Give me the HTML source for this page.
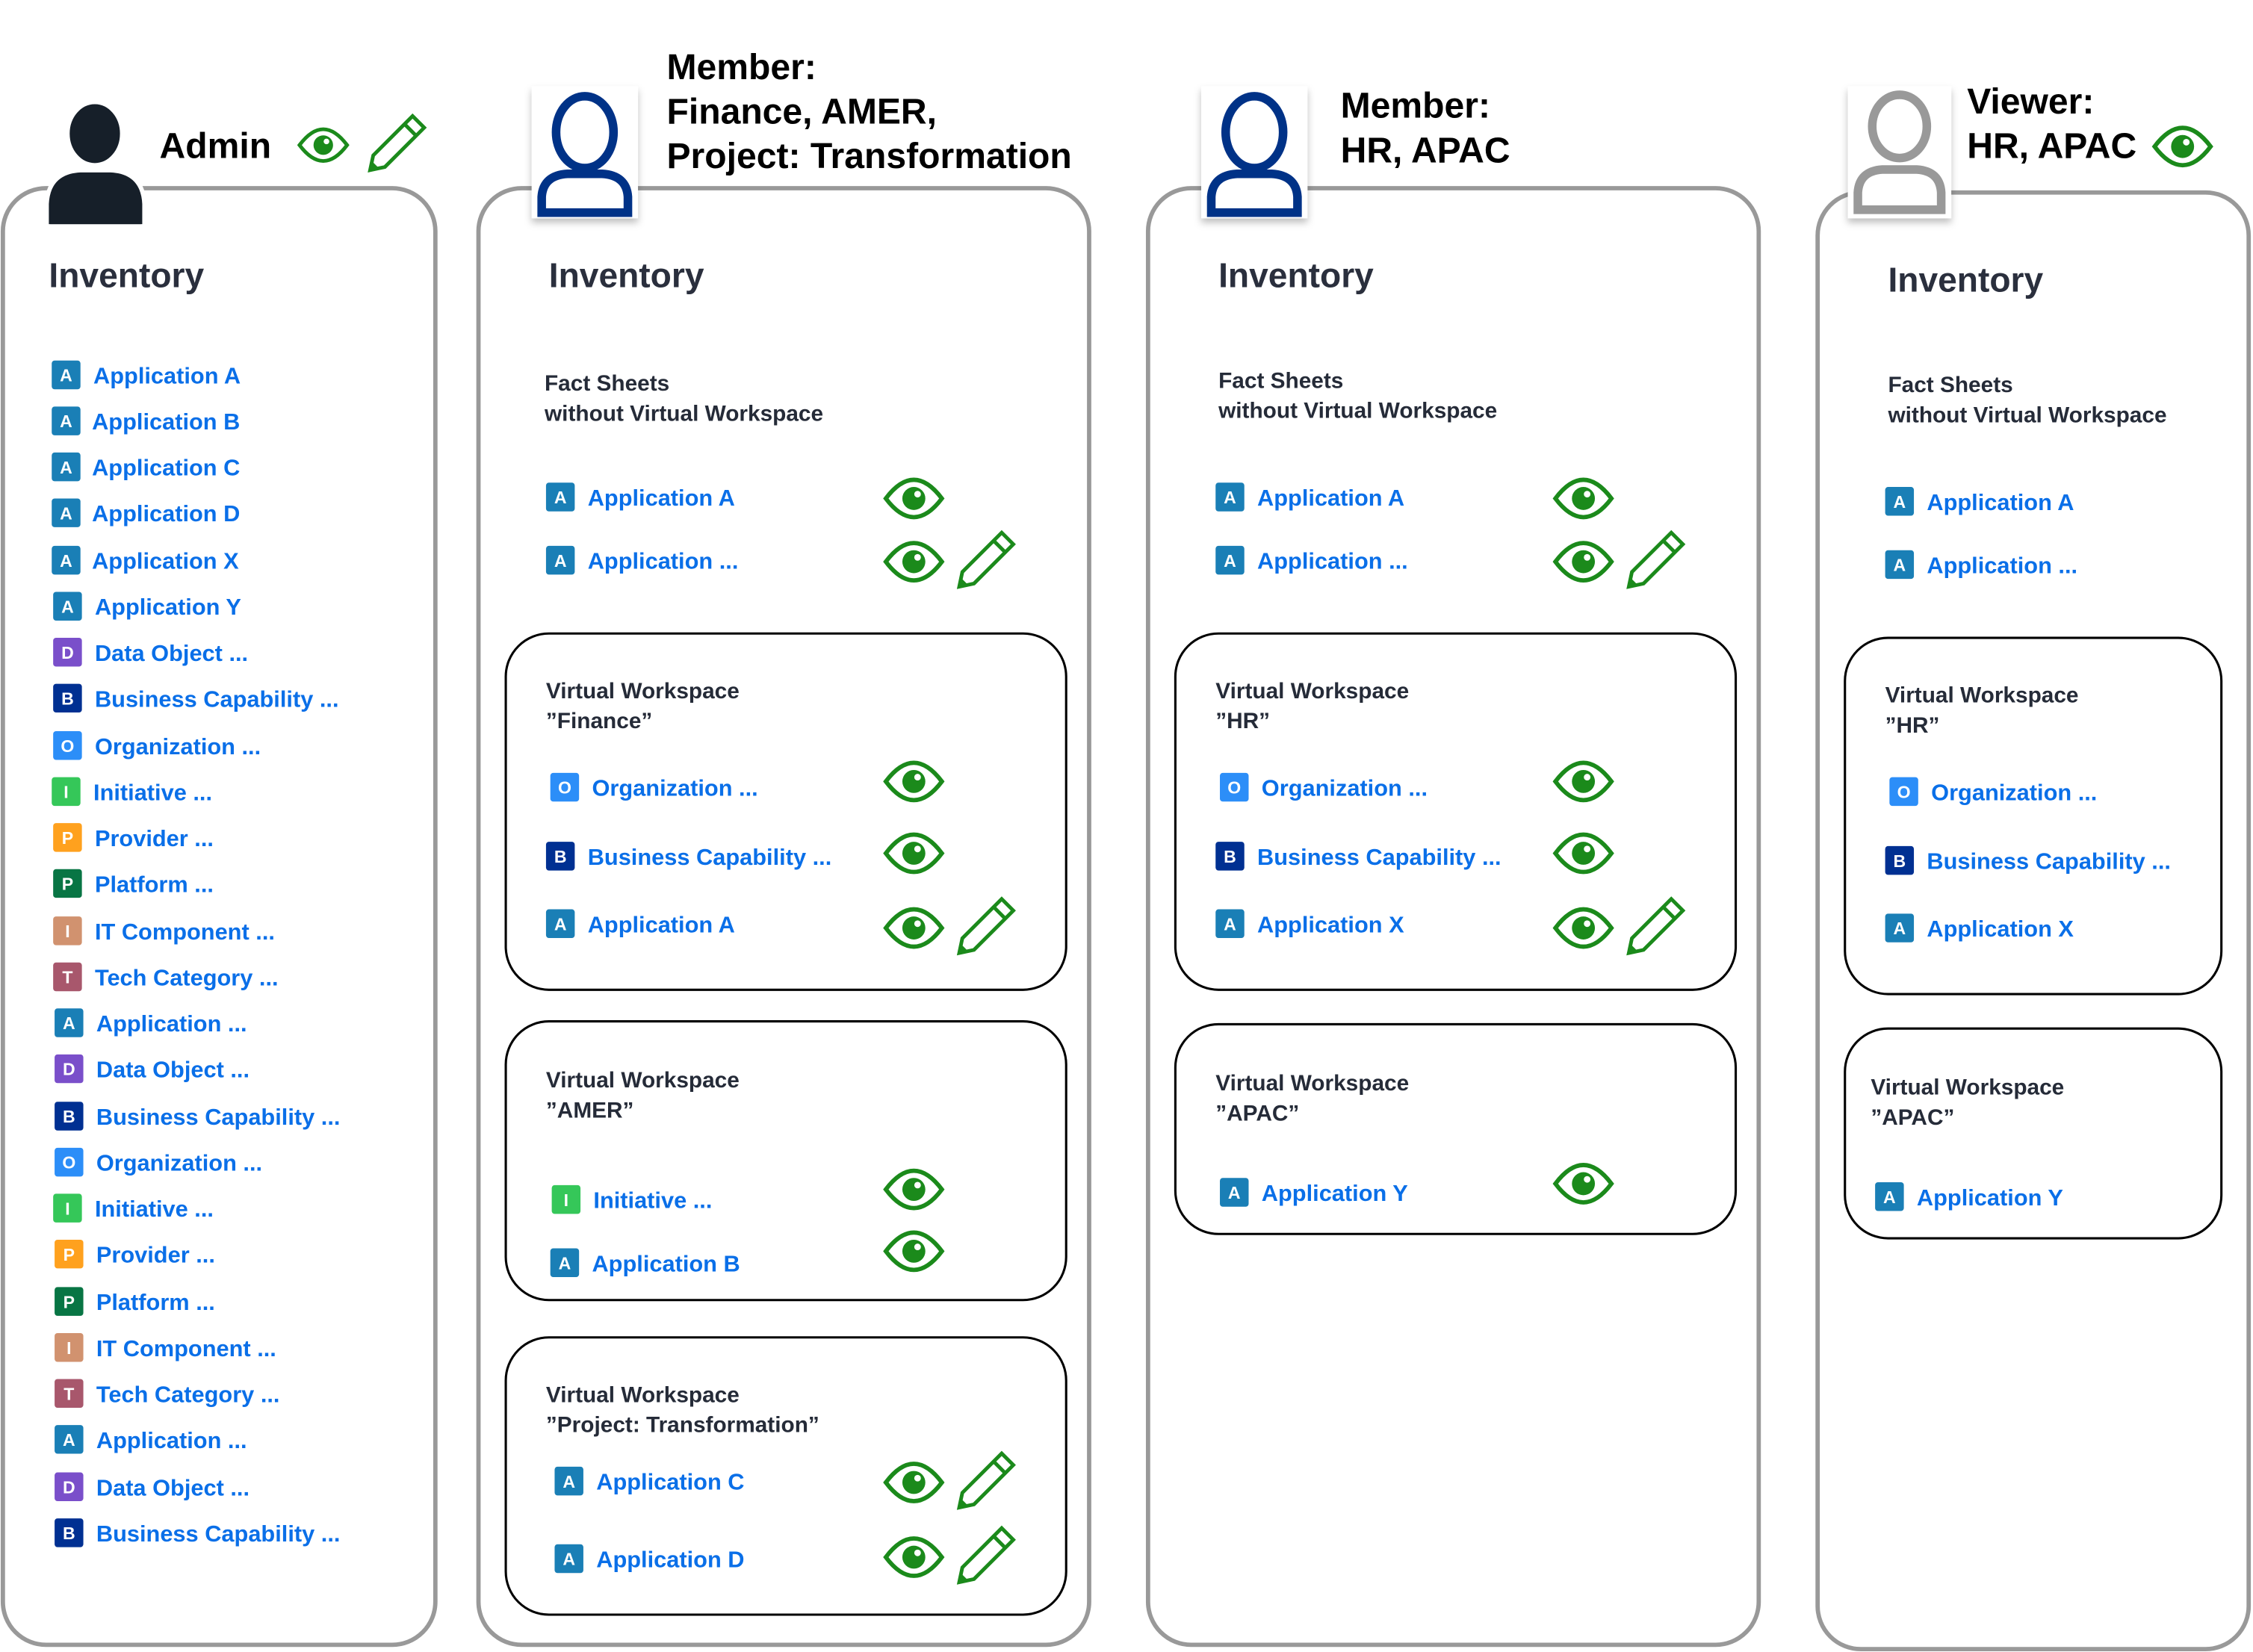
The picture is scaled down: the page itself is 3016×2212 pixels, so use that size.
<!DOCTYPE html>
<html><head><meta charset="utf-8"><style>
html,body{margin:0;padding:0;background:#fff;width:3016px;height:2212px;overflow:hidden}
svg{display:block}
text{font-family:"Liberation Sans",sans-serif}
.t{font-weight:bold;fill:#000;font-size:25px}
.inv{font-weight:bold;fill:#2a2f3d;font-size:24px}
.h{font-weight:bold;fill:#252b38;font-size:15.5px}
.i{font-weight:bold;fill:#0a6fe8;font-size:16px}
.b{font-weight:bold;fill:#fff;font-size:12px;text-anchor:middle}
</style></head><body>
<svg width="3016" height="2212" viewBox="0 0 1568 1150" xmlns="http://www.w3.org/2000/svg">
<defs>
<g id="eye"><path d="M-19.5,0 Q0,-26 19.5,0 Q0,26 -19.5,0 Z" fill="#fff" stroke="#1b8a1b" stroke-width="3"/><circle r="8" fill="#1b8a1b"/><circle cx="2.6" cy="-3" r="2.3" fill="#fff"/></g>
<g id="pen"><g transform="scale(0.88) rotate(-45)"><path d="M-28,0 L-18,-6.5 L26,-6.5 L26,6.5 L-18,6.5 Z" fill="#fff" stroke="#1b8a1b" stroke-width="2.9" stroke-linejoin="miter"/><line x1="17" y1="-6.5" x2="17" y2="6.5" stroke="#1b8a1b" stroke-width="2.9"/><path d="M-28,0 L-22,-3.8 L-22,3.8Z" fill="#1b8a1b"/></g></g>
<filter id="sh" x="-30%" y="-30%" width="160%" height="160%"><feDropShadow dx="0" dy="3" stdDeviation="2.5" flood-color="#000" flood-opacity="0.25"/></filter>
</defs>

<rect x="2" y="131" width="301" height="1014" rx="30" fill="#fff" stroke="#999" stroke-width="3"/>
<rect x="333" y="131" width="425" height="1014" rx="30" fill="#fff" stroke="#999" stroke-width="3"/>
<rect x="799" y="131" width="425" height="1014" rx="30" fill="#fff" stroke="#999" stroke-width="3"/>
<rect x="1265" y="134" width="300" height="1014" rx="30" fill="#fff" stroke="#999" stroke-width="3"/>

<g>
<ellipse cx="66" cy="93" rx="19" ry="22" fill="#161f29" stroke="#fff" stroke-width="3"/>
<path d="M33,158 L33,142 Q34,120 56,119 L77,119 Q99,120 100,142 L100,158 Z" fill="#161f29" stroke="#fff" stroke-width="4"/>
<path d="M34,156 L34,142 Q35,121 56,120 L77,120 Q98,121 99,142 L99,156 Z" fill="#161f29"/>
</g>
<text class="t" x="111" y="110">Admin</text>
<use href="#eye" x="225" y="101" transform="translate(225 101) scale(0.85) translate(-225 -101)"/>
<use href="#pen" x="275" y="101"/>

<g filter="url(#sh)">
<rect x="370" y="60" width="74" height="92" fill="#fff"/>
<ellipse cx="407" cy="92" rx="20" ry="25" fill="none" stroke="#003087" stroke-width="6"/>
<path d="M377,148 L377,137 Q378,122 395,121 L419,121 Q436,122 437,137 L437,148 Z" fill="none" stroke="#003087" stroke-width="6"/>
</g>
<g filter="url(#sh)">
<rect x="836" y="60" width="74" height="92" fill="#fff"/>
<ellipse cx="873" cy="92" rx="20" ry="25" fill="none" stroke="#003087" stroke-width="6"/>
<path d="M843,148 L843,137 Q844,122 861,121 L885,121 Q902,122 903,137 L903,148 Z" fill="none" stroke="#003087" stroke-width="6"/>
</g>
<g filter="url(#sh)">
<rect x="1286" y="60" width="72" height="92" fill="#fff"/>
<ellipse cx="1322" cy="88" rx="19" ry="22" fill="none" stroke="#999" stroke-width="6"/>
<path d="M1293,146 L1293,134 Q1294,119 1310,118 L1334,118 Q1350,119 1351,134 L1351,146 Z" fill="none" stroke="#999" stroke-width="6"/>
</g>

<text class="t" x="464" y="55">Member:</text>
<text class="t" x="464" y="86">Finance, AMER,</text>
<text class="t" x="464" y="117">Project: Transformation</text>
<text class="t" x="933" y="82">Member:</text>
<text class="t" x="933" y="113">HR, APAC</text>
<text class="t" x="1369" y="79">Viewer:</text>
<text class="t" x="1369" y="110">HR, APAC</text>
<use href="#eye" x="1519" y="102"/>

<text class="inv" x="34" y="200">Inventory</text>
<text class="inv" x="382" y="200">Inventory</text>
<text class="inv" x="848" y="200">Inventory</text>
<text class="inv" x="1314" y="203">Inventory</text>

<g>
<rect x="36" y="251" width="20" height="20" rx="2" fill="#1a7fb6"/><text class="b" x="46" y="265.5">A</text><text class="i" x="65" y="267">Application A</text>
<rect x="36" y="283" width="20" height="20" rx="2" fill="#1a7fb6"/><text class="b" x="46" y="297.5">A</text><text class="i" x="64" y="299">Application B</text>
<rect x="36" y="315" width="20" height="20" rx="2" fill="#1a7fb6"/><text class="b" x="46" y="329.5">A</text><text class="i" x="64" y="331">Application C</text>
<rect x="36" y="347" width="20" height="20" rx="2" fill="#1a7fb6"/><text class="b" x="46" y="361.5">A</text><text class="i" x="64" y="363">Application D</text>
<rect x="36" y="380" width="20" height="20" rx="2" fill="#1a7fb6"/><text class="b" x="46" y="394.5">A</text><text class="i" x="64" y="396">Application X</text>
<rect x="37" y="412" width="20" height="20" rx="2" fill="#1a7fb6"/><text class="b" x="47" y="426.5">A</text><text class="i" x="66" y="428">Application Y</text>
<rect x="37" y="444" width="20" height="20" rx="2" fill="#7a4fca"/><text class="b" x="47" y="458.5">D</text><text class="i" x="66" y="460">Data Object ...</text>
<rect x="37" y="476" width="20" height="20" rx="2" fill="#003092"/><text class="b" x="47" y="490.5">B</text><text class="i" x="66" y="492">Business Capability ...</text>
<rect x="37" y="509" width="20" height="20" rx="2" fill="#2c8ef8"/><text class="b" x="47" y="523.5">O</text><text class="i" x="66" y="525">Organization ...</text>
<rect x="36" y="541" width="20" height="20" rx="2" fill="#35c759"/><text class="b" x="46" y="555.5">I</text><text class="i" x="65" y="557">Initiative ...</text>
<rect x="37" y="573" width="20" height="20" rx="2" fill="#ffa11e"/><text class="b" x="47" y="587.5">P</text><text class="i" x="66" y="589">Provider ...</text>
<rect x="37" y="605" width="20" height="20" rx="2" fill="#087544"/><text class="b" x="47" y="619.5">P</text><text class="i" x="66" y="621">Platform ...</text>
<rect x="37" y="638" width="20" height="20" rx="2" fill="#d1926f"/><text class="b" x="47" y="652.5">I</text><text class="i" x="66" y="654">IT Component ...</text>
<rect x="37" y="670" width="20" height="20" rx="2" fill="#a8576c"/><text class="b" x="47" y="684.5">T</text><text class="i" x="66" y="686">Tech Category ...</text>
<rect x="38" y="702" width="20" height="20" rx="2" fill="#1a7fb6"/><text class="b" x="48" y="716.5">A</text><text class="i" x="67" y="718">Application ...</text>
<rect x="38" y="734" width="20" height="20" rx="2" fill="#7a4fca"/><text class="b" x="48" y="748.5">D</text><text class="i" x="67" y="750">Data Object ...</text>
<rect x="38" y="767" width="20" height="20" rx="2" fill="#003092"/><text class="b" x="48" y="781.5">B</text><text class="i" x="67" y="783">Business Capability ...</text>
<rect x="38" y="799" width="20" height="20" rx="2" fill="#2c8ef8"/><text class="b" x="48" y="813.5">O</text><text class="i" x="67" y="815">Organization ...</text>
<rect x="37" y="831" width="20" height="20" rx="2" fill="#35c759"/><text class="b" x="47" y="845.5">I</text><text class="i" x="66" y="847">Initiative ...</text>
<rect x="38" y="863" width="20" height="20" rx="2" fill="#ffa11e"/><text class="b" x="48" y="877.5">P</text><text class="i" x="67" y="879">Provider ...</text>
<rect x="38" y="896" width="20" height="20" rx="2" fill="#087544"/><text class="b" x="48" y="910.5">P</text><text class="i" x="67" y="912">Platform ...</text>
<rect x="38" y="928" width="20" height="20" rx="2" fill="#d1926f"/><text class="b" x="48" y="942.5">I</text><text class="i" x="67" y="944">IT Component ...</text>
<rect x="38" y="960" width="20" height="20" rx="2" fill="#a8576c"/><text class="b" x="48" y="974.5">T</text><text class="i" x="67" y="976">Tech Category ...</text>
<rect x="38" y="992" width="20" height="20" rx="2" fill="#1a7fb6"/><text class="b" x="48" y="1006.5">A</text><text class="i" x="67" y="1008">Application ...</text>
<rect x="38" y="1025" width="20" height="20" rx="2" fill="#7a4fca"/><text class="b" x="48" y="1039.5">D</text><text class="i" x="67" y="1041">Data Object ...</text>
<rect x="38" y="1057" width="20" height="20" rx="2" fill="#003092"/><text class="b" x="48" y="1071.5">B</text><text class="i" x="67" y="1073">Business Capability ...</text>
</g>

<text class="h" x="379" y="272">Fact Sheets</text>
<text class="h" x="379" y="293">without Virtual Workspace</text>
<rect x="380" y="336" width="20" height="20" rx="2" fill="#1a7fb6"/><text class="b" x="390" y="350.5">A</text><text class="i" x="409" y="352">Application A</text>
<use href="#eye" x="636" y="347"/>
<rect x="380" y="380" width="20" height="20" rx="2" fill="#1a7fb6"/><text class="b" x="390" y="394.5">A</text><text class="i" x="409" y="396">Application ...</text>
<use href="#eye" x="636" y="391"/><use href="#pen" x="685" y="391"/>

<rect x="352" y="441" width="390" height="248" rx="30" fill="none" stroke="#000" stroke-width="1.6"/>
<text class="h" x="380" y="486">Virtual Workspace</text>
<text class="h" x="380" y="507">”Finance”</text>
<rect x="383" y="538" width="20" height="20" rx="2" fill="#2c8ef8"/><text class="b" x="393" y="552.5">O</text><text class="i" x="412" y="554">Organization ...</text>
<use href="#eye" x="636" y="544"/>
<rect x="380" y="586" width="20" height="20" rx="2" fill="#003092"/><text class="b" x="390" y="600.5">B</text><text class="i" x="409" y="602">Business Capability ...</text>
<use href="#eye" x="636" y="594"/>
<rect x="380" y="633" width="20" height="20" rx="2" fill="#1a7fb6"/><text class="b" x="390" y="647.5">A</text><text class="i" x="409" y="649">Application A</text>
<use href="#eye" x="636" y="646"/><use href="#pen" x="685" y="646"/>

<rect x="352" y="711" width="390" height="194" rx="30" fill="none" stroke="#000" stroke-width="1.6"/>
<text class="h" x="380" y="757">Virtual Workspace</text>
<text class="h" x="380" y="778">”AMER”</text>
<rect x="384" y="825" width="20" height="20" rx="2" fill="#35c759"/><text class="b" x="394" y="839.5">I</text><text class="i" x="413" y="841">Initiative ...</text>
<use href="#eye" x="636" y="828"/>
<rect x="383" y="869" width="20" height="20" rx="2" fill="#1a7fb6"/><text class="b" x="393" y="883.5">A</text><text class="i" x="412" y="885">Application B</text>
<use href="#eye" x="636" y="871"/>

<rect x="352" y="931" width="390" height="193" rx="30" fill="none" stroke="#000" stroke-width="1.6"/>
<text class="h" x="380" y="976">Virtual Workspace</text>
<text class="h" x="380" y="997">”Project: Transformation”</text>
<rect x="386" y="1021" width="20" height="20" rx="2" fill="#1a7fb6"/><text class="b" x="396" y="1035.5">A</text><text class="i" x="415" y="1037">Application C</text>
<use href="#eye" x="636" y="1032"/><use href="#pen" x="685" y="1032"/>
<rect x="386" y="1075" width="20" height="20" rx="2" fill="#1a7fb6"/><text class="b" x="396" y="1089.5">A</text><text class="i" x="415" y="1091">Application D</text>
<use href="#eye" x="636" y="1084"/><use href="#pen" x="685" y="1084"/>

<text class="h" x="848" y="270">Fact Sheets</text>
<text class="h" x="848" y="291">without Virtual Workspace</text>
<rect x="846" y="336" width="20" height="20" rx="2" fill="#1a7fb6"/><text class="b" x="856" y="350.5">A</text><text class="i" x="875" y="352">Application A</text>
<use href="#eye" x="1102" y="347"/>
<rect x="846" y="380" width="20" height="20" rx="2" fill="#1a7fb6"/><text class="b" x="856" y="394.5">A</text><text class="i" x="875" y="396">Application ...</text>
<use href="#eye" x="1102" y="391"/><use href="#pen" x="1151" y="391"/>

<rect x="818" y="441" width="390" height="248" rx="30" fill="none" stroke="#000" stroke-width="1.6"/>
<text class="h" x="846" y="486">Virtual Workspace</text>
<text class="h" x="846" y="507">”HR”</text>
<rect x="849" y="538" width="20" height="20" rx="2" fill="#2c8ef8"/><text class="b" x="859" y="552.5">O</text><text class="i" x="878" y="554">Organization ...</text>
<use href="#eye" x="1102" y="544"/>
<rect x="846" y="586" width="20" height="20" rx="2" fill="#003092"/><text class="b" x="856" y="600.5">B</text><text class="i" x="875" y="602">Business Capability ...</text>
<use href="#eye" x="1102" y="594"/>
<rect x="846" y="633" width="20" height="20" rx="2" fill="#1a7fb6"/><text class="b" x="856" y="647.5">A</text><text class="i" x="875" y="649">Application X</text>
<use href="#eye" x="1102" y="646"/><use href="#pen" x="1151" y="646"/>

<rect x="818" y="713" width="390" height="146" rx="30" fill="none" stroke="#000" stroke-width="1.6"/>
<text class="h" x="846" y="759">Virtual Workspace</text>
<text class="h" x="846" y="780">”APAC”</text>
<rect x="849" y="820" width="20" height="20" rx="2" fill="#1a7fb6"/><text class="b" x="859" y="834.5">A</text><text class="i" x="878" y="836">Application Y</text>
<use href="#eye" x="1102" y="824"/>

<text class="h" x="1314" y="273">Fact Sheets</text>
<text class="h" x="1314" y="294">without Virtual Workspace</text>
<rect x="1312" y="339" width="20" height="20" rx="2" fill="#1a7fb6"/><text class="b" x="1322" y="353.5">A</text><text class="i" x="1341" y="355">Application A</text>
<rect x="1312" y="383" width="20" height="20" rx="2" fill="#1a7fb6"/><text class="b" x="1322" y="397.5">A</text><text class="i" x="1341" y="399">Application ...</text>

<rect x="1284" y="444" width="262" height="248" rx="30" fill="none" stroke="#000" stroke-width="1.6"/>
<text class="h" x="1312" y="489">Virtual Workspace</text>
<text class="h" x="1312" y="510">”HR”</text>
<rect x="1315" y="541" width="20" height="20" rx="2" fill="#2c8ef8"/><text class="b" x="1325" y="555.5">O</text><text class="i" x="1344" y="557">Organization ...</text>
<rect x="1312" y="589" width="20" height="20" rx="2" fill="#003092"/><text class="b" x="1322" y="603.5">B</text><text class="i" x="1341" y="605">Business Capability ...</text>
<rect x="1312" y="636" width="20" height="20" rx="2" fill="#1a7fb6"/><text class="b" x="1322" y="650.5">A</text><text class="i" x="1341" y="652">Application X</text>

<rect x="1284" y="716" width="262" height="146" rx="30" fill="none" stroke="#000" stroke-width="1.6"/>
<text class="h" x="1302" y="762">Virtual Workspace</text>
<text class="h" x="1302" y="783">”APAC”</text>
<rect x="1305" y="823" width="20" height="20" rx="2" fill="#1a7fb6"/><text class="b" x="1315" y="837.5">A</text><text class="i" x="1334" y="839">Application Y</text>
</svg>
</body></html>
